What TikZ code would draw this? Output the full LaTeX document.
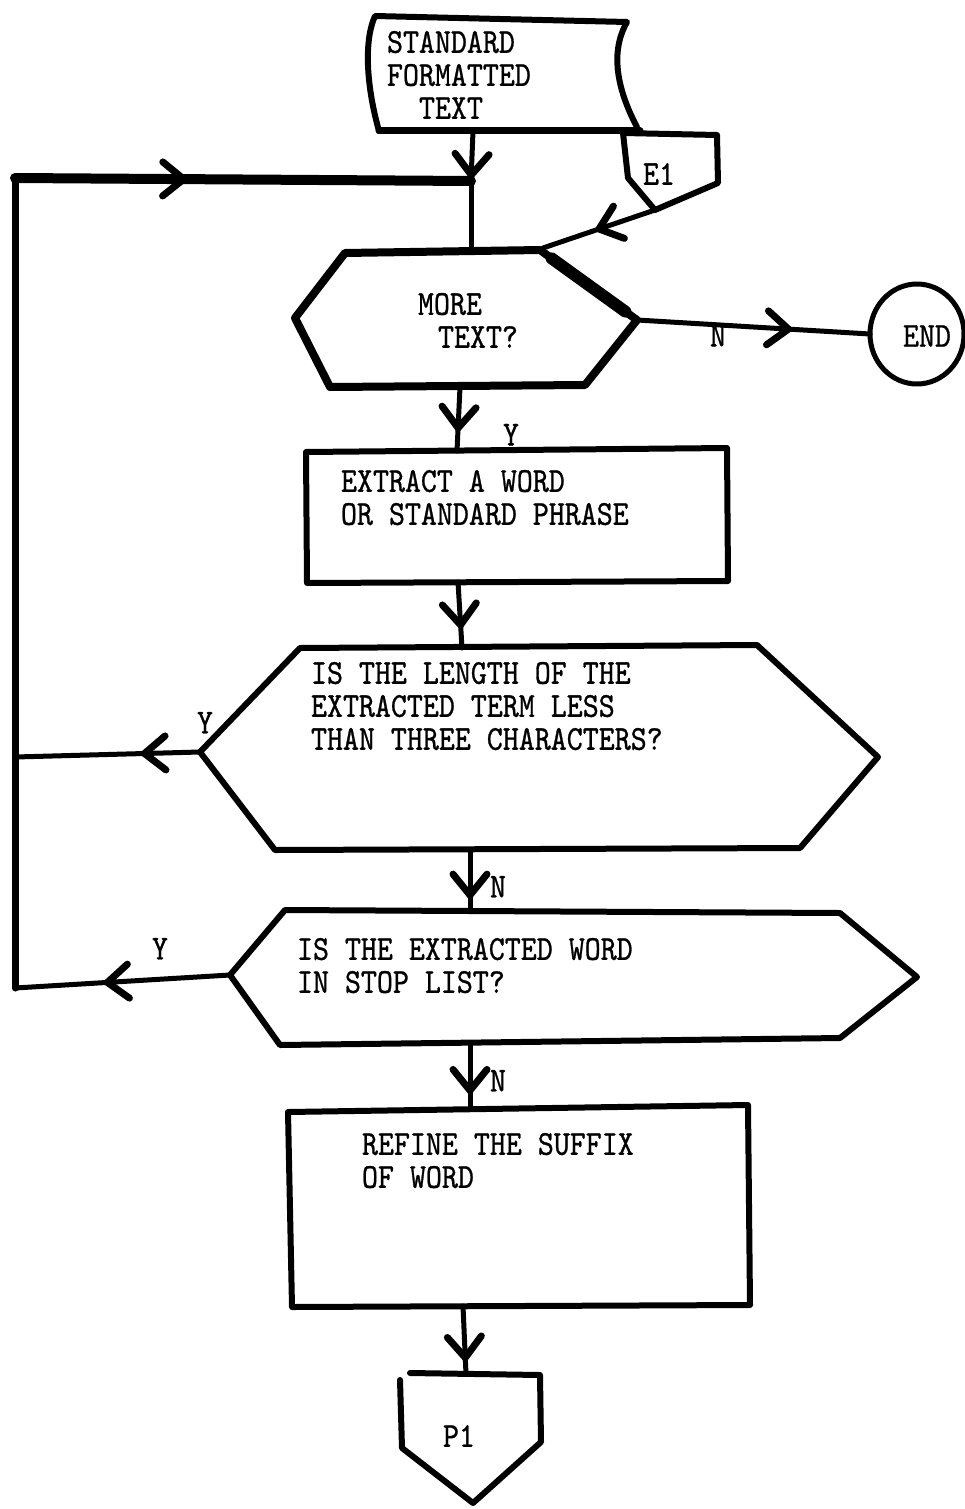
\documentclass[tikz,border=0pt]{standalone}
\usepackage{fontspec}
\newfontfamily\tw{lmmono10-regular.otf}[FakeStretch=0.87,FakeBold=0.8]
\usetikzlibrary{arrows.meta,decorations.markings,calc,shapes.geometric}
\begin{document}
\begin{tikzpicture}[x=1pt,y=-1pt,
  line cap=round, line join=round,
  every node/.style={inner sep=0pt, outer sep=0pt, font=\tw\fontsize{35}{33}\selectfont, anchor=north west, align=left},
  outline/.style={draw, line width=6pt},
  conn/.style={line width=5pt},
  midbarb/.style={postaction={decorate}, decoration={markings, mark=at position #1 with {\draw[line width=7pt, line cap=round, line join=miter] (-21pt,-17pt) -- (0pt,0pt) -- (-21pt,17pt);}}}
]
\useasboundingbox (0,0) rectangle (965,1509);

% ---------- input document ----------
\coordinate (docTL) at (375,16);
\coordinate (docTR) at (627,22);
\coordinate (docBR) at (640,131);
\coordinate (docBL) at (379,131);
\coordinate (docOut) at (473,131);
\draw[outline] (docBL) .. controls (366,85) and (364,40) .. (docTL) -- (500,19) -- (docTR) .. controls (608,55) and (620,95) .. (637,127);
\draw[line width=7pt] (docBL) -- (docBR);
\node (stdtxt) at (387,31) {STANDARD\\FORMATTED\\\hspace*{32pt}TEXT};

% ---------- E1 connector ----------
\coordinate (e1TL) at (623,133);
\coordinate (e1TR) at (717,135);
\coordinate (e1R) at (718,183);
\coordinate (e1B) at (655,210);
\coordinate (e1L) at (628,178);
\draw[outline] (e1TL) -- (e1TR) -- (e1R) -- (e1B) -- (e1L) -- cycle;
\node (e1txt) at (643,163) {E1};

% ---------- MORE TEXT? ----------
\coordinate (h1TL) at (345,253);
\coordinate (h1TR) at (540,250);
\coordinate (h1R) at (637,320);
\coordinate (h1BR) at (585,385);
\coordinate (h1BL) at (330,387);
\coordinate (h1L) at (295,318);
\coordinate (h1T) at (471,251);
\coordinate (h1B) at (460,387);
\coordinate (h1in) at (543,248);
\draw[outline, line width=8pt] (h1TL) -- (h1TR) -- (h1R) -- (h1BR) -- (h1BL) -- (h1L) -- cycle;
\draw[line width=12pt] ($(h1TR)!0.12!(h1R)$) -- ($(h1TR)!0.88!(h1R)$);
\node (moretxt) at (418,293) {MORE\\\hspace*{20pt}TEXT?};

% ---------- END ----------
\node[draw, ellipse, line width=5pt, minimum width=94pt, minimum height=100pt, anchor=center] (endc) at (917,334) {};
\node[anchor=center] (endtxt) at (927,336) {END};

% ---------- EXTRACT box ----------
\coordinate (b1TL) at (306,452);
\coordinate (b1TR) at (727,448);
\coordinate (b1BR) at (728,581);
\coordinate (b1BL) at (307,583);
\coordinate (b1T) at (457,451);
\coordinate (b1B) at (458,582);
\draw[outline] (b1TL) -- (b1TR) -- (b1BR) -- (b1BL) -- cycle;
\node (extxt) at (341,470) {EXTRACT A WORD\\OR STANDARD PHRASE};

% ---------- length decision ----------
\coordinate (h2TL) at (300,648);
\coordinate (h2TR) at (757,645);
\coordinate (h2R) at (878,757);
\coordinate (h2BR) at (800,848);
\coordinate (h2BL) at (275,850);
\coordinate (h2L) at (200,752);
\coordinate (h2T) at (462,648);
\coordinate (h2B) at (470,850);
\draw[outline] (h2TL) -- (h2TR) -- (h2R) -- (h2BR) -- (h2BL) -- (h2L) -- cycle;
\node (lentxt) at (311,662) {IS THE LENGTH OF THE\\EXTRACTED TERM LESS\\THAN THREE CHARACTERS?};

% ---------- stop list decision ----------
\coordinate (h3TL) at (285,910);
\coordinate (h3TR) at (840,913);
\coordinate (h3R) at (917,977);
\coordinate (h3BR) at (840,1038);
\coordinate (h3BL) at (280,1045);
\coordinate (h3L) at (230,975);
\coordinate (h3T) at (470,911);
\coordinate (h3B) at (470,1043);
\draw[outline] (h3TL) -- (h3TR) -- (h3R) -- (h3BR) -- (h3BL) -- (h3L) -- cycle;
\node (stoptxt) at (297,938) {IS THE EXTRACTED WORD\\IN STOP LIST?};

% ---------- REFINE box ----------
\coordinate (b2TL) at (288,1112);
\coordinate (b2TR) at (748,1105);
\coordinate (b2BR) at (750,1305);
\coordinate (b2BL) at (292,1307);
\coordinate (b2T) at (470,1108);
\coordinate (b2B) at (463,1306);
\draw[outline] (b2TL) -- (b2TR) -- (b2BR) -- (b2BL) -- cycle;
\node (reftxt) at (362,1133) {REFINE THE SUFFIX\\OF WORD};

% ---------- P1 connector ----------
\coordinate (p1T) at (466,1374);
\draw[outline] (400,1380) -- (402,1448) -- (473,1503) -- (541,1442) -- (540,1375) -- (410,1373);
\node (p1txt) at (443,1425) {P1};

% ---------- loop lines ----------
\coordinate (lt) at (15,178);
\coordinate (lm) at (15,757);
\coordinate (lb) at (15,988);
\coordinate (join) at (471,181);
\draw[line width=7pt] (lb) -- (lt);
\draw[line width=10pt, midbarb=0.37] (lt) -- (join);

% ---------- connectors ----------
\draw[conn, midbarb=0.88] (docOut) -- (join);
\draw[conn] (join) -- (h1T);
\draw[conn, midbarb=0.5] (e1B) -- (h1in);
\draw[conn, midbarb=0.65] (h1R) -- (endc.west);
\draw[conn, midbarb=0.64] (h1B) -- (b1T);
\draw[conn, midbarb=0.65] (b1B) -- (h2T);
\draw[conn, midbarb=0.3] (h2L) -- (lm);
\draw[conn, midbarb=0.74] (h2B) -- (h3T);
\draw[conn, midbarb=0.57] (h3L) -- (lb);
\draw[conn, midbarb=0.73] (h3B) -- (b2T);
\draw[conn, midbarb=0.76] (b2B) -- (p1T);

% ---------- branch labels ----------
\node (ylab1) at (503,424) {Y};
\node (nlab1) at (710,325) {N};
\node (ylab2) at (197,712) {Y};
\node (nlab2) at (490,876) {N};
\node (ylab3) at (152,938) {Y};
\node (nlab3) at (490,1070) {N};
\end{tikzpicture}
\end{document}
